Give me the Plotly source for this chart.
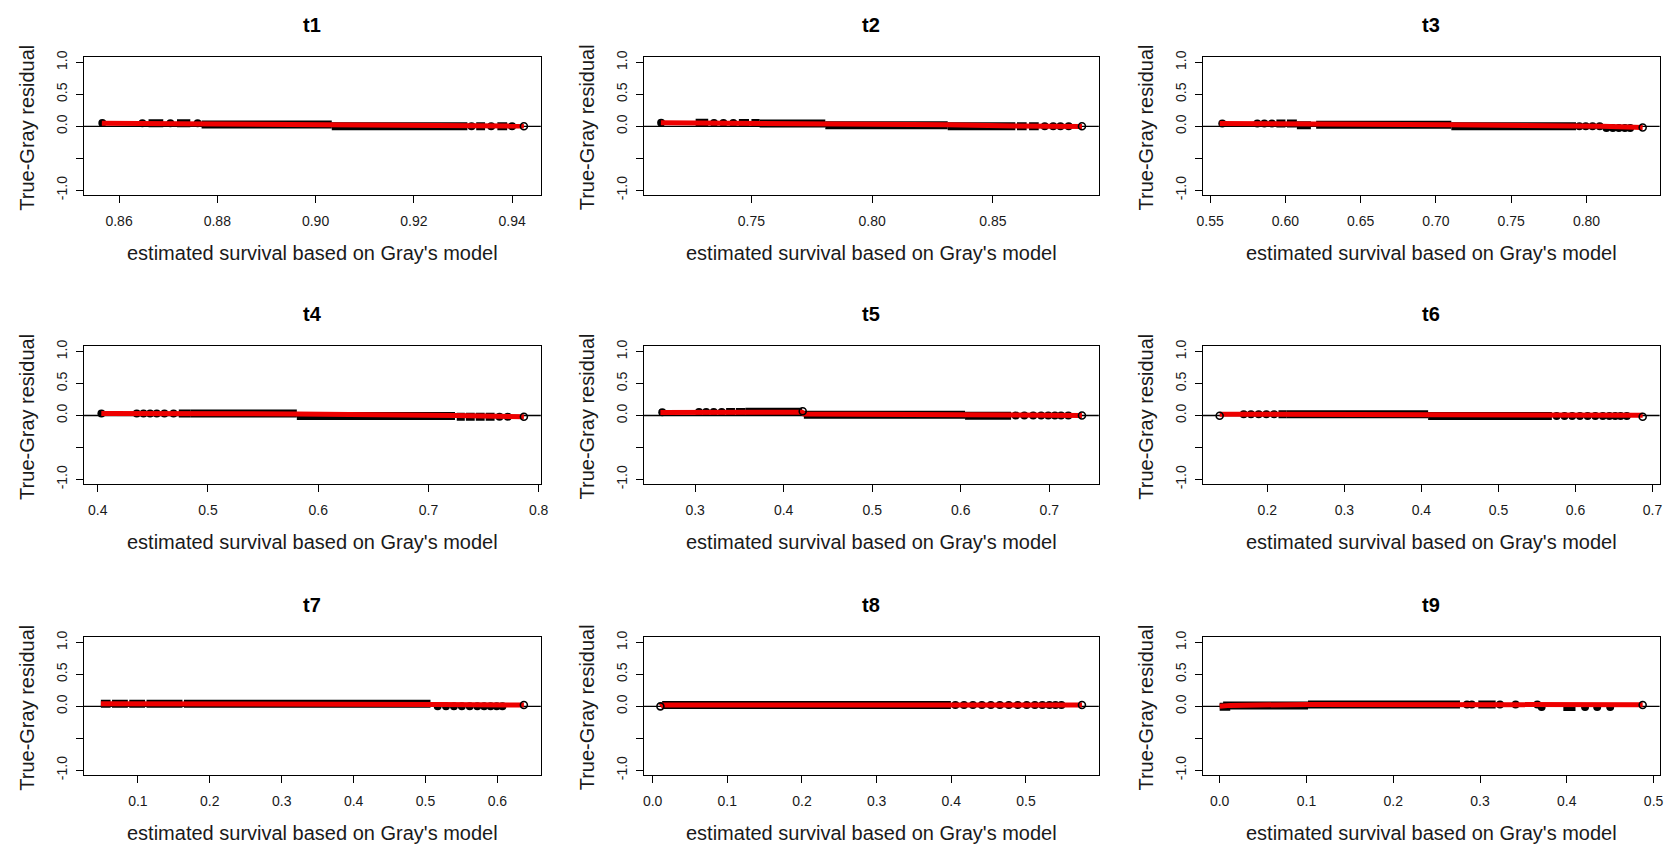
import plotly.graph_objects as go

W, H = 1678, 854

# ---------------- data ----------------
# runs: [x_start, x_end, residual]; x_start == x_end -> a single (open) point
t1_runs = [[0.8563, 0.8569, 0.05],
           [0.8640, 0.8655, 0.046], [0.8660, 0.8690, 0.046], [0.8697, 0.8712, 0.046],
           [0.8718, 0.8745, 0.046], [0.8752, 0.8768, 0.046],
           [0.8768, 0.9033, 0.03], [0.9033, 0.9309, 0.0],
           [0.9313, 0.9322, 0.0], [0.9327, 0.9345, 0.0], [0.9350, 0.9365, 0.0],
           [0.9370, 0.9390, 0.0], [0.9395, 0.9405, 0.0],
           [0.9424, 0.9424, 0.0]]
t1_red_x = [0.8565, 0.8768, 0.9033, 0.9309, 0.9424]
t1_red_y = [0.048, 0.042, 0.03, 0.022, 0.004]
t1_ticks = ["0.86", "0.88", "0.90", "0.92", "0.94"]

t2_runs = [[0.7123, 0.7129, 0.055], [0.7269, 0.7321, 0.055],
           [0.7330, 0.7360, 0.05], [0.7368, 0.7400, 0.05], [0.7410, 0.7440, 0.05],
           [0.7448, 0.7490, 0.05], [0.7500, 0.7534, 0.05],
           [0.7534, 0.7806, 0.045], [0.7806, 0.8313, 0.015], [0.8313, 0.8593, 0.0],
           [0.8600, 0.8640, 0.0], [0.8650, 0.8690, 0.0], [0.8700, 0.8730, 0.0],
           [0.8740, 0.8760, 0.0], [0.8770, 0.8790, 0.0], [0.8800, 0.8828, 0.0],
           [0.8869, 0.8869, 0.0]]
t2_red_x = [0.7125, 0.7806, 0.8313, 0.8593, 0.8869]
t2_red_y = [0.055, 0.045, 0.025, 0.005, -0.005]
t2_ticks = ["0.75", "0.80", "0.85"]

t3_runs = [[0.5563, 0.5598, 0.045],
           [0.5796, 0.5830, 0.045], [0.5840, 0.5880, 0.045], [0.5890, 0.5930, 0.045],
           [0.5940, 0.6000, 0.045], [0.6010, 0.6076, 0.045],
           [0.6076, 0.6169, 0.015], [0.6204, 0.7102, 0.025], [0.7102, 0.7930, 0.0],
           [0.7935, 0.7970, 0.0], [0.7980, 0.8010, 0.0], [0.8020, 0.8060, 0.0],
           [0.8070, 0.8105, 0.0],
           [0.8115, 0.8150, -0.025], [0.8160, 0.8190, -0.025], [0.8200, 0.8230, -0.025],
           [0.8240, 0.8270, -0.025], [0.8280, 0.8300, -0.025],
           [0.8373, 0.8373, -0.02]]
t3_red_x = [0.5563, 0.6076, 0.7102, 0.8105, 0.8373]
t3_red_y = [0.045, 0.04, 0.025, 0.0, -0.02]
t3_ticks = ["0.55", "0.60", "0.65", "0.70", "0.75", "0.80"]

t4_runs = [[0.4028, 0.4038, 0.03],
           [0.4327, 0.4380, 0.03], [0.4390, 0.4440, 0.03], [0.4450, 0.4500, 0.03],
           [0.4510, 0.4560, 0.03], [0.4570, 0.4640, 0.03], [0.4655, 0.4720, 0.03],
           [0.4735, 0.4839, 0.03],
           [0.4839, 0.5806, 0.03], [0.5806, 0.7241, -0.01],
           [0.7257, 0.7330, -0.02], [0.7340, 0.7420, -0.02], [0.7430, 0.7510, -0.02],
           [0.7520, 0.7600, -0.02], [0.7610, 0.7680, -0.02], [0.7690, 0.7750, -0.02],
           [0.7866, 0.7866, -0.02]]
t4_red_x = [0.4032, 0.5806, 0.7241, 0.7866]
t4_red_y = [0.03, 0.025, 0.0, -0.02]
t4_ticks = ["0.4", "0.5", "0.6", "0.7", "0.8"]

t5_runs = [[0.2608, 0.2650, 0.05],
           [0.3008, 0.3080, 0.055], [0.3090, 0.3160, 0.055], [0.3170, 0.3250, 0.055],
           [0.3260, 0.3340, 0.055], [0.3350, 0.3450, 0.055], [0.3460, 0.3568, 0.055],
           [0.3568, 0.4208, 0.06], [0.4215, 0.4215, 0.065],
           [0.4228, 0.6048, 0.01], [0.6048, 0.6568, -0.005],
           [0.6580, 0.6660, 0.0], [0.6675, 0.6760, 0.0], [0.6775, 0.6860, 0.0],
           [0.6875, 0.6940, 0.0], [0.6955, 0.7020, 0.0], [0.7035, 0.7090, 0.0],
           [0.7105, 0.7160, 0.0], [0.7180, 0.7248, 0.0],
           [0.7368, 0.7368, 0.0]]
t5_red_x = [0.2608, 0.3568, 0.4208, 0.4228, 0.6048, 0.6568, 0.7368]
t5_red_y = [0.045, 0.05, 0.05, 0.025, 0.02, 0.005, 0.0]
t5_ticks = ["0.3", "0.4", "0.5", "0.6", "0.7"]

t6_runs = [[0.1381, 0.1381, -0.005],
           [0.1656, 0.1730, 0.02], [0.1745, 0.1830, 0.02], [0.1845, 0.1930, 0.02],
           [0.1945, 0.2030, 0.02], [0.2045, 0.2130, 0.02], [0.2145, 0.2252, 0.02],
           [0.2252, 0.4087, 0.02], [0.4087, 0.5693, -0.01],
           [0.5710, 0.5800, -0.01], [0.5815, 0.5900, -0.01], [0.5915, 0.6000, -0.01],
           [0.6015, 0.6100, -0.01], [0.6115, 0.6200, -0.01], [0.6215, 0.6300, -0.01],
           [0.6320, 0.6390, -0.01], [0.6410, 0.6470, -0.01], [0.6490, 0.6540, -0.01],
           [0.6560, 0.6610, -0.01], [0.6630, 0.6702, -0.01],
           [0.6872, 0.6872, -0.02]]
t6_red_x = [0.1381, 0.4087, 0.5693, 0.6872]
t6_red_y = [0.02, 0.02, 0.01, 0.005]
t6_ticks = ["0.2", "0.3", "0.4", "0.5", "0.6", "0.7"]

t7_runs = [[0.0485, 0.0620, 0.04], [0.0640, 0.0860, 0.04], [0.0880, 0.1100, 0.04],
           [0.1120, 0.1620, 0.04], [0.1640, 0.5069, 0.04],
           [0.5118, 0.5220, 0.0], [0.5240, 0.5330, 0.0], [0.5350, 0.5440, 0.0],
           [0.5460, 0.5550, 0.0], [0.5570, 0.5660, 0.0], [0.5680, 0.5760, 0.0],
           [0.5780, 0.5850, 0.0], [0.5870, 0.5940, 0.0], [0.5960, 0.6020, 0.0],
           [0.6040, 0.6100, 0.0],
           [0.6368, 0.6368, 0.02]]
t7_red_x = [0.0485, 0.5069, 0.5200, 0.6368]
t7_red_y = [0.04, 0.04, 0.03, 0.02]
t7_ticks = ["0.1", "0.2", "0.3", "0.4", "0.5", "0.6"]

t8_runs = [[0.0104, 0.0104, 0.0], [0.0128, 0.3994, 0.02],
           [0.4010, 0.4100, 0.02], [0.4120, 0.4220, 0.02], [0.4240, 0.4340, 0.02],
           [0.4360, 0.4460, 0.02], [0.4480, 0.4580, 0.02], [0.4600, 0.4700, 0.02],
           [0.4720, 0.4820, 0.02], [0.4840, 0.4940, 0.02], [0.4960, 0.5060, 0.02],
           [0.5080, 0.5160, 0.02], [0.5180, 0.5260, 0.02], [0.5280, 0.5350, 0.02],
           [0.5370, 0.5420, 0.02], [0.5450, 0.5500, 0.02],
           [0.5750, 0.5750, 0.02]]
t8_red_x = [0.0104, 0.0128, 0.5750]
t8_red_y = [0.0, 0.02, 0.02]
t8_ticks = ["0.0", "0.1", "0.2", "0.3", "0.4", "0.5"]

t9_runs = [[0.0000, 0.0122, -0.005], [0.0040, 0.1018, 0.015], [0.1018, 0.2769, 0.03],
           [0.2830, 0.2870, 0.03], [0.2890, 0.2920, 0.03], [0.2980, 0.3180, 0.03],
           [0.3220, 0.3240, 0.03], [0.3400, 0.3420, 0.03], [0.3650, 0.3670, 0.03],
           [0.3700, 0.3720, -0.01], [0.3960, 0.4100, -0.01], [0.4200, 0.4220, -0.01],
           [0.4340, 0.4360, -0.01], [0.4490, 0.4510, -0.01],
           [0.4874, 0.4874, 0.02]]
t9_red_x = [0.0, 0.0122, 0.1018, 0.4874]
t9_red_y = [0.0, 0.015, 0.03, 0.025]
t9_ticks = ["0.0", "0.1", "0.2", "0.3", "0.4", "0.5"]

titles = ["t1", "t2", "t3", "t4", "t5", "t6", "t7", "t8", "t9"]
y_tick_vals = [-1.0, -0.5, 0.0, 0.5, 1.0]
y_tick_text = ["-1.0", "", "0.0", "0.5", "1.0"]
y_limits = [-1.0, 1.0]
x_title = "estimated survival based on Gray's model"
y_title = "True-Gray residual"

panels = [
    (t1_runs, t1_red_x, t1_red_y, t1_ticks),
    (t2_runs, t2_red_x, t2_red_y, t2_ticks),
    (t3_runs, t3_red_x, t3_red_y, t3_ticks),
    (t4_runs, t4_red_x, t4_red_y, t4_ticks),
    (t5_runs, t5_red_x, t5_red_y, t5_ticks),
    (t6_runs, t6_red_x, t6_red_y, t6_ticks),
    (t7_runs, t7_red_x, t7_red_y, t7_ticks),
    (t8_runs, t8_red_x, t8_red_y, t8_ticks),
    (t9_runs, t9_red_x, t9_red_y, t9_ticks),
]

# ---------------- layout geometry (pixels) ----------------
col_px = [(78.6, 539.3), (642.9, 1102.0), (1206.8, 1667.5)]
row_px = [(51.0, 191.0), (344.3, 484.3), (639.3, 779.3)]

FONT = "Liberation Sans, Arial, Helvetica, sans-serif"
TXT = "#1a1a1a"
RED = "#ee0000"
BAND = 8          # thickness (px) of the band formed by overlapping circles

fig = go.Figure()
layout = dict(width=W, height=H, autosize=False,
              margin=dict(l=0, r=0, t=0, b=0, pad=0),
              paper_bgcolor="white", plot_bgcolor="white",
              showlegend=False, font=dict(family=FONT, color=TXT))
annotations = []
shapes = []

ylo = y_limits[0] - 0.04 * (y_limits[1] - y_limits[0])
yhi = y_limits[1] + 0.04 * (y_limits[1] - y_limits[0])

for i, (runs, rx, ry, ticks) in enumerate(panels):
    r, c = divmod(i, 3)
    n = i + 1
    xa = "x" if n == 1 else f"x{n}"
    ya = "y" if n == 1 else f"y{n}"
    x0p, x1p = col_px[c]
    y0p, y1p = row_px[r]

    allx = [v for run in runs for v in run[:2]] + list(rx)
    dmin, dmax = min(allx), max(allx)
    span = dmax - dmin
    xr = [dmin - 0.04 * span, dmax + 0.04 * span]
    px_per_unit = (x1p - x0p) / (xr[1] - xr[0])

    # dense runs of overlapping points drawn as thick black bands;
    # very short clusters drawn as filled blobs, lone points as open circles
    lx, ly, bx, by, ox, oy = [], [], [], [], [], []
    for a, b, v in runs:
        if a == b:
            ox.append(a); oy.append(v)
        elif (b - a) * px_per_unit < BAND:
            bx.append((a + b) / 2); by.append(v)
        else:
            lx += [a, b, None]; ly += [v, v, None]
    fig.add_trace(go.Scatter(x=lx, y=ly, mode="lines", xaxis=xa, yaxis=ya,
                             line=dict(color="black", width=BAND), hoverinfo="skip"))
    fig.add_trace(go.Scatter(x=bx, y=by, mode="markers", xaxis=xa, yaxis=ya,
                             marker=dict(symbol="circle", size=BAND, color="black",
                                         line=dict(width=0)), hoverinfo="skip"))
    fig.add_trace(go.Scatter(x=rx, y=ry, mode="lines", xaxis=xa, yaxis=ya,
                             line=dict(color=RED, width=5), hoverinfo="skip"))
    fig.add_trace(go.Scatter(x=ox, y=oy, mode="markers", xaxis=xa, yaxis=ya,
                             marker=dict(symbol="circle-open", size=7, color="black",
                                         line=dict(width=1.6)), hoverinfo="skip"))

    axis_common = dict(showgrid=False, zeroline=False, showline=True, mirror=True,
                       linecolor="black", linewidth=1, ticks="outside", ticklen=7,
                       tickwidth=1, tickcolor="black",
                       tickfont=dict(family=FONT, size=14, color=TXT))
    layout["xaxis" if n == 1 else f"xaxis{n}"] = dict(
        axis_common, domain=[x0p / W, x1p / W], range=xr, anchor=ya,
        tickvals=[float(t) for t in ticks], ticktext=ticks, ticklabelstandoff=6)
    layout["yaxis" if n == 1 else f"yaxis{n}"] = dict(
        axis_common, domain=[1 - y1p / H, 1 - y0p / H], range=[ylo, yhi], anchor=xa,
        tickvals=y_tick_vals, ticktext=y_tick_text, tickangle=-90, ticklabelstandoff=3)

    # horizontal reference line at 0
    shapes.append(dict(type="line", xref=f"{xa} domain", yref=ya, x0=0, x1=1,
                       y0=0, y1=0, line=dict(color="black", width=1.3), layer="below"))

    cx = (x0p + x1p) / 2
    cy = (y0p + y1p) / 2
    annotations.append(dict(text=f"<b>{titles[i]}</b>", x=cx / W, y=1 - (y0p - 32.7) / H,
                            xref="paper", yref="paper", xanchor="center", yanchor="middle",
                            showarrow=False, font=dict(family=FONT, size=20, color="black")))
    annotations.append(dict(text=x_title, x=cx / W, y=1 - (y1p + 58.3) / H,
                            xref="paper", yref="paper", xanchor="center", yanchor="middle",
                            showarrow=False, font=dict(family=FONT, size=20, color=TXT)))
    annotations.append(dict(text=y_title, x=(x0p - 57.5) / W, y=1 - (cy + 1.5) / H,
                            xref="paper", yref="paper", xanchor="center", yanchor="middle",
                            textangle=-90, showarrow=False,
                            font=dict(family=FONT, size=20, color=TXT)))

layout["annotations"] = annotations
layout["shapes"] = shapes
fig.update_layout(**layout)
fig.write_html("out.html")
